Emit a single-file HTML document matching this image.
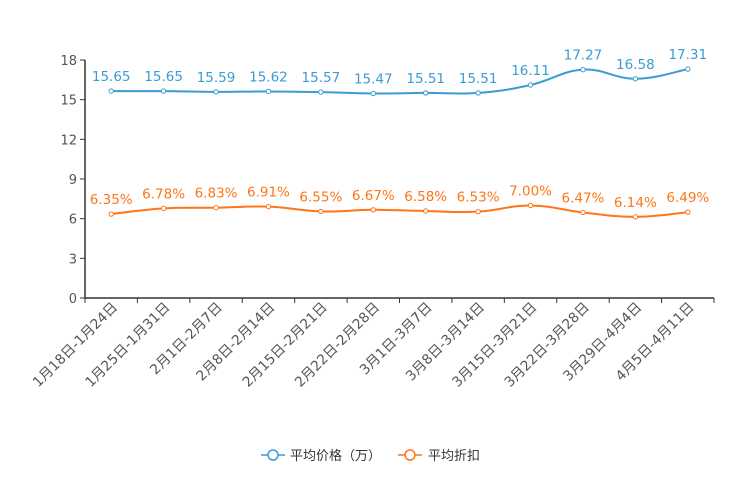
<!DOCTYPE html>
<html><head><meta charset="utf-8"><style>
html,body{margin:0;padding:0;background:#fff;}
svg{display:block;font-family:"DejaVu Sans","Noto Sans CJK SC",sans-serif;}
</style></head><body>
<svg id="chart" width="744" height="496" viewBox="0 0 744 496" xmlns="http://www.w3.org/2000/svg">
<g id="axes"></g><g id="series"></g>
<g>
  <g>
    <line x1="261" y1="455" x2="285" y2="455" stroke="#3a9bd5" stroke-width="1.5"/>
    <circle cx="273" cy="455" r="5" fill="#fff" stroke="#3a9bd5" stroke-width="1.5"/>
    <text x="290" y="460" font-size="13" fill="#333">平均价格（万）</text>
  </g>
  <g>
    <line x1="398" y1="455" x2="422" y2="455" stroke="#ff7518" stroke-width="1.5"/>
    <circle cx="410" cy="455" r="5" fill="#fff" stroke="#ff7518" stroke-width="1.5"/>
    <text x="428" y="460" font-size="13" fill="#333">平均折扣</text>
  </g>
</g>
</svg>
<script>
const categories=["1月18日-1月24日","1月25日-1月31日","2月1日-2月7日","2月8日-2月14日","2月15日-2月21日","2月22日-2月28日","3月1日-3月7日","3月8日-3月14日","3月15日-3月21日","3月22日-3月28日","3月29日-4月4日","4月5日-4月11日"];
const priceValues=[15.65,15.65,15.59,15.62,15.57,15.47,15.51,15.51,16.11,17.27,16.58,17.31];
const discountValues=[6.35,6.78,6.83,6.91,6.55,6.67,6.58,6.53,7.00,6.47,6.14,6.49];
const yTicks=[0,3,6,9,12,15,18];
const NS="http://www.w3.org/2000/svg";
const X0=85,X1=714,Y0=298,Y1=60,YMAX=18;
const band=(X1-X0)/categories.length;
const xS=i=>X0+band*(i+0.5);
const yS=v=>Y0-(v/YMAX)*(Y0-Y1);
const axes=document.getElementById('axes'),ser=document.getElementById('series');
function mk(tag,attrs,parent,text){const e=document.createElementNS(NS,tag);for(const k in attrs)e.setAttribute(k,attrs[k]);if(text!==undefined)e.textContent=text;parent.appendChild(e);return e;}
let e=mk('line',{x1:X0,y1:Y0,x2:X1,y2:Y0,stroke:'#333','stroke-width':1.5},axes);


e=mk('line',{x1:X0,y1:Y1,x2:X0,y2:Y0,stroke:'#333','stroke-width':1.5},axes);


yTicks.forEach(t=>{const y=yS(t);
 mk('line',{x1:X0-5,y1:y,x2:X0,y2:y,stroke:'#333'},axes);
 const tx=mk('text',{x:X0-8,y:y+5,'text-anchor':'end','font-size':13,fill:'#555'},axes,t);
 
 
});
for(let i=0;i<=categories.length;i++){const x=X0+band*i;mk('line',{x1:x,y1:Y0,x2:x,y2:Y0+5,stroke:'#333'},axes);}
categories.forEach((c,i)=>{const x=xS(i)+7,y=Y0+10;
 const tx=mk('text',{x:x,y:y,'text-anchor':'end','font-size':13.8,fill:'#555',transform:`rotate(-45 ${x} ${y})`},axes,c);
 
 
});
function smooth(pts){let d=`M${pts[0][0]},${pts[0][1]}`;const s=0.2;
 for(let i=0;i<pts.length-1;i++){const p0=pts[Math.max(0,i-1)],p1=pts[i],p2=pts[i+1],p3=pts[Math.min(pts.length-1,i+2)];
  const c1=[p1[0]+(p2[0]-p0[0])*s,p1[1]+(p2[1]-p0[1])*s],c2=[p2[0]-(p3[0]-p1[0])*s,p2[1]-(p3[1]-p1[1])*s];
  d+=` C${c1[0]},${c1[1]} ${c2[0]},${c2[1]} ${p2[0]},${p2[1]}`;}
 return d;}
function series(vals,color,name,fmt){
 const g=mk('g',{},ser);
 
 
 const pts=vals.map((v,i)=>[xS(i),yS(v)]);
 mk('path',{d:smooth(pts),fill:'none',stroke:color,'stroke-width':2},g);
 pts.forEach((p,i)=>{
  const c=mk('circle',{cx:p[0],cy:p[1],r:2.2,fill:'#fff',stroke:color,'stroke-width':1},g);
  
  
  const t=mk('text',{x:p[0],y:p[1]-10,'text-anchor':'middle','font-size':13.5,fill:color},g,fmt(vals[i]));
  
  
 });
}
series(priceValues,'#3a9bd5','series-price',v=>v.toFixed(2));
series(discountValues,'#ff7518','series-discount',v=>v.toFixed(2)+'%');
</script>
</body></html>
